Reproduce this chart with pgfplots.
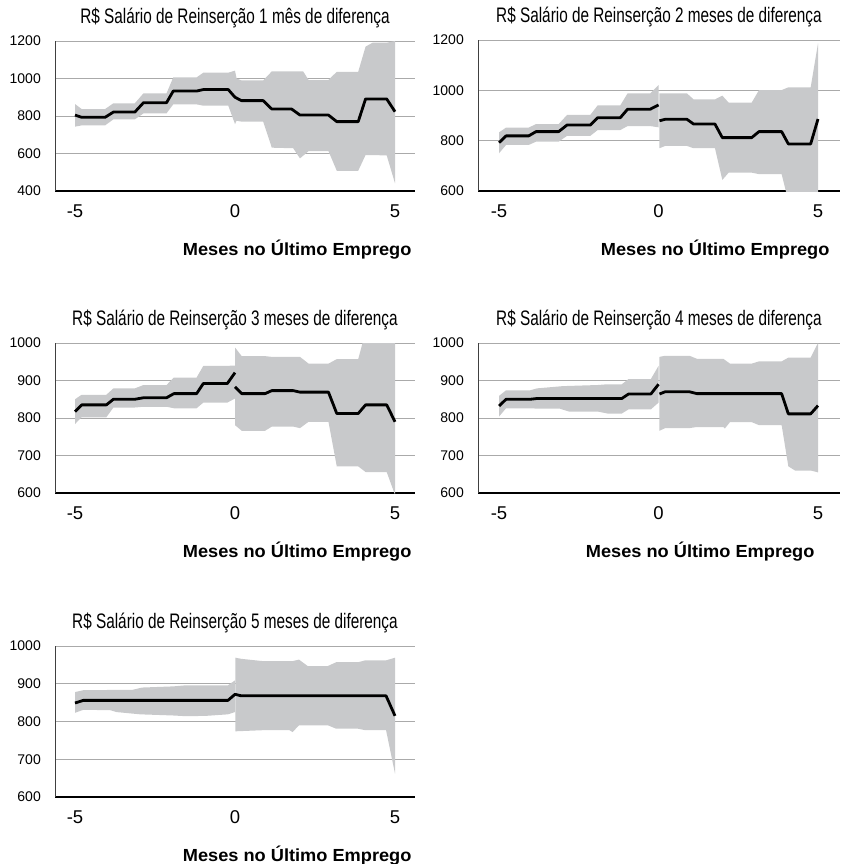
\documentclass[border=0pt]{standalone}
\usepackage{fontspec}
\setmainfont{Liberation Sans}
\newfontfamily\titlefont{Liberation Sans}[FakeStretch=0.73]
\newfontfamily\labelfont{Liberation Sans}[FakeStretch=1.04]
\usepackage{pgfplots}
\pgfplotsset{compat=1.18}
\definecolor{bandc}{RGB}{200,201,203}
\definecolor{gridc}{RGB}{170,170,170}
\pgfplotsset{panel/.style={
  scale only axis, anchor=south west,
  width=360pt, height=150pt,
  axis x line*=bottom, axis y line*=left,
  x axis line style={black, line width=1.8pt, -},
  y axis line style={black!75, line width=0.8pt, -},
  ymajorgrids, grid style={gridc, line width=0.9pt},
  major tick length=0pt,
  xtick={-5,0,5}, xticklabels={-5,0,5},
  xticklabel style={font=\fontsize{18.5}{19}\selectfont, anchor=base, yshift=-26pt},
  yticklabel style={font=\fontsize{14}{14}\selectfont, anchor=east, inner sep=0pt, xshift=-14pt},
  title style={font=\titlefont\fontsize{21}{22}\selectfont, at={(0.5,1)}, anchor=base, yshift=11.7pt},
  xlabel={Meses no Último Emprego},
  xlabel style={font=\labelfont\bfseries\fontsize{17.5}{18}\selectfont, at={(1,0)}, anchor=base east, yshift=-64pt, xshift=0pt},
  xmin=-5.625, xmax=5.625,
}, band/.style={fill=bandc, draw=none}, ln/.style={black, line width=2.8pt, line join=round}}
\begin{document}
\begin{tikzpicture}
\useasboundingbox (0,0) rectangle (840pt,-864pt);
% Panel 1
\begin{axis}[panel, at={(55pt,-191pt)},
  title={R\$ Salário de Reinserção 1 mês de diferença},
  ymin=400, ymax=1200, ytick={400,600,800,1000,1200}, yticklabels={400,600,800,1000,1200}]
\addplot[band] coordinates {(-5,864)(-4.79,837)(-4.06,837)(-3.8,868)(-3.13,868)(-2.86,921)(-2.14,921)(-1.93,1006)(-1.2,1006)(-0.99,1031)(-0.21,1031)(0,1042)(0.05,1000)(0.2,990)(0.88,990)(1.15,1038)(2.13,1038)(2.3,992)(2.92,992)(3.18,1036)(3.85,1036)(4.08,1170)(4.3,1191)(4.74,1191)(5,1200)
(5,441)(4.74,590)(4.08,592)(3.85,508)(3.18,508)(2.92,613)(2.3,613)(2.03,574)(1.82,628)(1.15,631)(0.88,770)(0.2,770)(0.05,775)(0,757)(-0.21,855)(-0.99,855)(-1.2,862)(-1.93,862)(-2.14,814)(-2.86,814)(-3.13,782)(-3.8,782)(-4.06,750)(-4.79,750)(-5,743)} -- cycle;
\addplot[ln] coordinates {(-5,805)(-4.79,793)(-4.06,793)(-3.8,821)(-3.13,821)(-2.86,871)(-2.14,871)(-1.93,933)(-1.2,933)(-0.99,941)(-0.21,941)(0,900)(0.2,882)(0.88,882)(1.15,837)(1.77,837)(2.03,805)(2.92,805)(3.18,770)(3.85,770)(4.08,891)(4.74,891)(5,823)};
\end{axis}
% Panel 2
\begin{axis}[panel, at={(478pt,-191pt)}, width=362pt, height=151pt, xmin=-5.66, xmax=5.69,
  xlabel style={xshift=-7pt},
  title={R\$ Salário de Reinserção 2 meses de diferença},
  ymin=600, ymax=1200, ytick={600,800,1000,1200}, yticklabels={600,800,1000,1200}]
\addplot[band] coordinates {(-5,833)(-4.78,852)(-4.07,852)(-3.84,866)(-3.13,866)(-2.87,902)(-2.14,902)(-1.91,940)(-1.2,940)(-0.97,988)(-0.26,988)(0,1021)
(0,853)(-0.26,858)(-0.97,858)(-1.2,842)(-1.91,842)(-2.14,819)(-2.87,819)(-3.13,796)(-3.84,796)(-4.07,783)(-4.78,783)(-5,750)} -- cycle;
\addplot[band] coordinates {(0.03,988)(0.89,988)(1.1,964)(1.77,964)(2.0,979)(2.2,951)(2.92,951)(3.15,1001)(3.86,1001)(4.07,1012)(4.77,1012)(5,1187)
(5,560)(4.77,560)(4.07,560)(3.86,667)(3.15,667)(2.92,673)(2.2,673)(2.0,644)(1.77,770)(1.1,770)(0.89,779)(0.21,779)(0.03,770)} -- cycle;
\addplot[ln] coordinates {(-5,792)(-4.78,819)(-4.07,819)(-3.84,836)(-3.13,836)(-2.87,862)(-2.14,862)(-1.91,891)(-1.2,891)(-0.97,925)(-0.26,925)(0,942)};
\addplot[ln] coordinates {(0.03,879)(0.21,885)(0.89,885)(1.1,866)(1.77,866)(2.0,812)(2.92,812)(3.15,836)(3.86,836)(4.07,787)(4.77,787)(5,886)};
\end{axis}
% Panel 3
\begin{axis}[panel, at={(55pt,-493pt)},
  title={R\$ Salário de Reinserção 3 meses de diferença},
  ymin=600, ymax=1000, ytick={600,700,800,900,1000}, yticklabels={600,700,800,900,1000}]
\addplot[band] coordinates {(-5,850)(-4.79,862)(-4.02,862)(-3.8,879)(-3.13,879)(-2.86,888)(-2.14,888)(-1.91,908)(-1.2,908)(-0.99,939)(-0.24,939)(0,940)
(0,852)(-0.24,841)(-0.99,841)(-1.2,826)(-1.91,826)(-2.14,830)(-2.86,830)(-3.13,828)(-3.8,828)(-4.02,802)(-4.79,802)(-5,784)} -- cycle;
\addplot[band] coordinates {(0,988)(0.21,965)(0.94,965)(1.15,963)(2.03,963)(2.3,945)(2.92,945)(3.18,957)(3.85,957)(4.08,1030)(5,1030)
(5,595)(4.74,656)(4.08,656)(3.85,671)(3.18,671)(2.92,790)(2.3,790)(2.03,773)(1.82,777)(1.15,777)(0.94,766)(0.21,766)(0,781)} -- cycle;
\addplot[ln] coordinates {(-5,817)(-4.79,835)(-4.02,835)(-3.8,850)(-3.13,850)(-2.86,854)(-2.14,854)(-1.91,865)(-1.2,865)(-0.99,892)(-0.24,892)(0,921)};
\addplot[ln] coordinates {(0,883)(0.21,865)(0.94,865)(1.15,873)(1.82,873)(2.03,869)(2.92,869)(3.18,812)(3.85,812)(4.08,835)(4.74,835)(5,790)};
\end{axis}
% Panel 4
\begin{axis}[panel, at={(478pt,-493pt)}, width=362pt, xmin=-5.66, xmax=5.69,
  xlabel style={xshift=-22pt},
  title={R\$ Salário de Reinserção 4 meses de diferença},
  ymin=600, ymax=1000, ytick={600,700,800,900,1000}, yticklabels={600,700,800,900,1000}]
\addplot[band] coordinates {(-5,859)(-4.78,874)(-4.02,874)(-3.81,879)(-3,885)(-1.9,888)(-1.6,890)(-1.15,890)(-0.94,904)(-0.24,904)(0,939)
(0,841)(-0.24,823)(-0.94,823)(-1.15,812)(-1.6,812)(-1.9,817)(-2.8,817)(-3.1,825)(-3.81,825)(-4.02,826)(-4.78,826)(-5,804)} -- cycle;
\addplot[band] coordinates {(0.03,963)(0.21,966)(0.97,966)(1.2,958)(2.03,958)(2.24,945)(2.92,945)(3.15,951)(3.86,951)(4.07,961)(4.77,961)(5,1000)
(5,655)(4.77,660)(4.28,660)(4.07,671)(3.86,781)(3.15,781)(2.92,789)(2.24,789)(2.08,772)(2.03,776)(1.2,776)(0.97,773)(0.21,773)(0.03,766)} -- cycle;
\addplot[ln] coordinates {(-5,832)(-4.78,850)(-4.02,850)(-3.81,852)(-1.15,852)(-0.94,864)(-0.24,864)(0,890)};
\addplot[ln] coordinates {(0.03,864)(0.21,870)(0.97,870)(1.2,865)(3.86,865)(4.07,811)(4.77,811)(5,833)};
\end{axis}
% Panel 5
\begin{axis}[panel, at={(55pt,-797pt)}, height=151pt,
  title={R\$ Salário de Reinserção 5 meses de diferença},
  ymin=600, ymax=1000, ytick={600,700,800,900,1000}, yticklabels={600,700,800,900,1000}]
\addplot[band] coordinates {(-5,878)(-4.74,883)(-3.2,884)(-2.9,890)(-1.94,893)(-1.52,896)(-0.22,896)(0,909)
(0,825)(-0.22,819)(-0.9,815)(-1.52,814)(-1.94,816)(-2.96,819)(-3.7,825)(-3.9,830)(-4.74,831)(-5,823)} -- cycle;
\addplot[band] coordinates {(0.01,969)(0.2,966)(0.87,960)(1.8,960)(2.0,964)(2.27,947)(2.9,947)(3.16,957)(3.84,957)(4.07,962)(4.72,962)(5,969)
(5,662)(4.72,777)(4.07,777)(3.84,781)(3.16,781)(2.9,790)(2.0,790)(1.8,772)(1.7,777)(0.87,777)(0.01,774)} -- cycle;
\addplot[ln] coordinates {(-5,849)(-4.74,856)(-0.22,856)(0,872)(0.2,868)(4.72,868)(5,815)};
\end{axis}
\end{tikzpicture}
\end{document}
